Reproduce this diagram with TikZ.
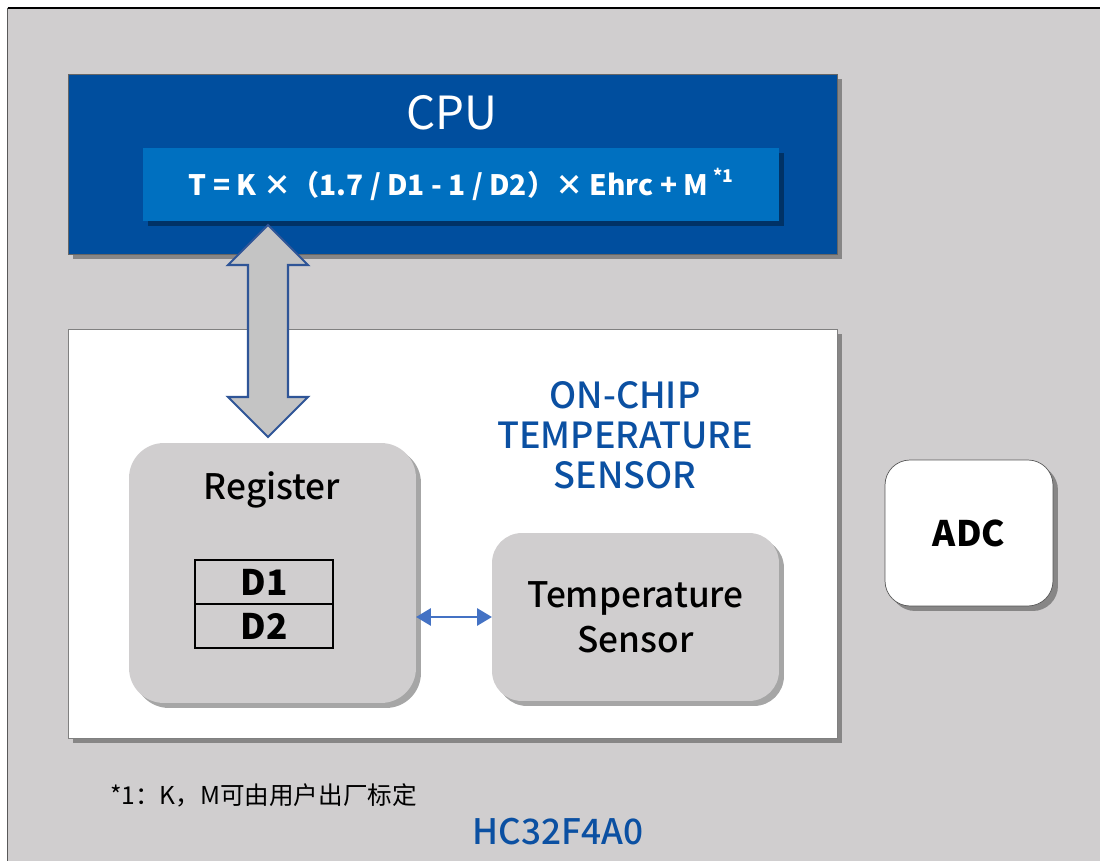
\documentclass[tikz,border=0pt]{standalone}
\usepackage{fontspec}
\setmainfont{Noto Sans CJK SC}
\newfontfamily\medfont{Noto Sans CJK SC Medium}
\usepackage{tikz}
\usetikzlibrary{arrows.meta, positioning, shadows, calc}
\definecolor{pagegrey}{HTML}{D0CECF}
\definecolor{cpublue}{HTML}{004E9E}
\definecolor{formulablue}{HTML}{0070C0}
\definecolor{titleblue}{HTML}{0B50A2}
\definecolor{busedge}{HTML}{2F5597}
\definecolor{busfill}{HTML}{C4C4C4}
\definecolor{linkblue}{HTML}{4472C4}

\begin{document}
\begin{tikzpicture}[
    x=0.02cm, y=-0.02cm,
    every node/.style={inner sep=0pt, outer sep=0pt},
    boxshadow/.style={drop shadow={shadow xshift=0.1cm, shadow yshift=-0.1cm, opacity=0.35, fill=black}},
    cpubox/.style={rectangle, draw=gray!80!black, fill=cpublue, minimum width=15.38cm, minimum height=3.6cm, boxshadow},
    formulabox/.style={rectangle, fill=formulablue, minimum width=12.72cm, minimum height=1.46cm, text=white, font=\bfseries\fontsize{16}{19}\selectfont, boxshadow},
    chipbox/.style={rectangle, draw=gray, fill=white, minimum width=15.38cm, minimum height=8.18cm, boxshadow},
    blockbox/.style={rectangle, rounded corners=0.7cm, fill=pagegrey, minimum width=5.74cm, font=\medfont\fontsize{20}{25.6}\selectfont, align=center, boxshadow},
    cellbox/.style={rectangle, draw=black, line width=1.1pt, minimum width=2.76cm, minimum height=0.88cm, font=\bfseries\fontsize{20}{24}\selectfont},
    adcbox/.style={rectangle, rounded corners=0.5cm, draw=gray!70!black, fill=white, minimum width=3.36cm, minimum height=2.92cm, font=\bfseries\fontsize{20}{24}\selectfont, boxshadow},
    busarrow/.style={draw=busedge, fill=busfill, line width=1.2pt, line join=miter},
    linkarrow/.style={linkblue, line width=1.7pt, {Triangle[length=0.3cm,width=0.34cm]}-{Triangle[length=0.3cm,width=0.34cm]}},
]
\useasboundingbox (0,0) rectangle (1100,861);
\fill[white] (0,0) rectangle (1100,861);
\fill[pagegrey] (7.5,8) rectangle (1100,861);
\draw[black, line width=0.8pt] (7.5,8) -- (1100,8);
\draw[gray!70!black, line width=0.8pt] (7.5,8) -- (7.5,861);
% CPU
\node[cpubox] (cpu) at (452.5,164) {};
\node[text=white, font=\fontsize{26}{30}\selectfont] (cpulabel) at (452,113) {CPU};
\node[formulabox] (formula) at (461,184.5) {T = K ×（1.7 / D1 - 1 / D2）× Ehrc + M\,\raisebox{0.45em}{\fontsize{10}{12}\selectfont *1}};
% on-chip sensor block
\node[chipbox] (chip) at (452.5,533.5) {};
\node[text=titleblue, font=\medfont\fontsize{20.5}{22.7}\selectfont, align=center] (chiplabel) at (625,435) {ON-CHIP\\TEMPERATURE\\SENSOR};
\node[blockbox, minimum height=5.2cm] (register) at (272.5,573) {};
\node[font=\medfont\fontsize{20}{24}\selectfont] (reglabel) at (272,490) {Register};
\node[cellbox] (d1) at (264,582) {D1};
\node[cellbox, below=0pt of d1] (d2) {D2};
\node[blockbox, rounded corners=0.6cm, minimum height=3.36cm] (tsensor) at (635.5,617) {Temperature\\Sensor};
\draw[linkarrow] (register.east |- tsensor.west) -- (tsensor.west);
% bus between CPU and register
\coordinate (bustop) at (268,225);
\coordinate (busbot) at (268,437);
\draw[busarrow] (bustop) -- ++(40,40) -- ++(-20,0) -- ($(busbot)+(20,-40)$) -- ++(20,0) -- (busbot)
    -- ++(-40,-40) -- ++(20,0) -- ($(bustop)+(-20,40)$) -- ++(-20,0) -- cycle;
\node[adcbox] (adc) at (969,533) {ADC};
\node[anchor=west, font=\fontsize{14}{17}\selectfont] (note) at (110,795) {*1：K，M可由用户出厂标定};
\node[text=titleblue, font=\medfont\fontsize{20}{24}\selectfont] (chipname) at (558,832) {HC32F4A0};
\end{tikzpicture}
\end{document}
